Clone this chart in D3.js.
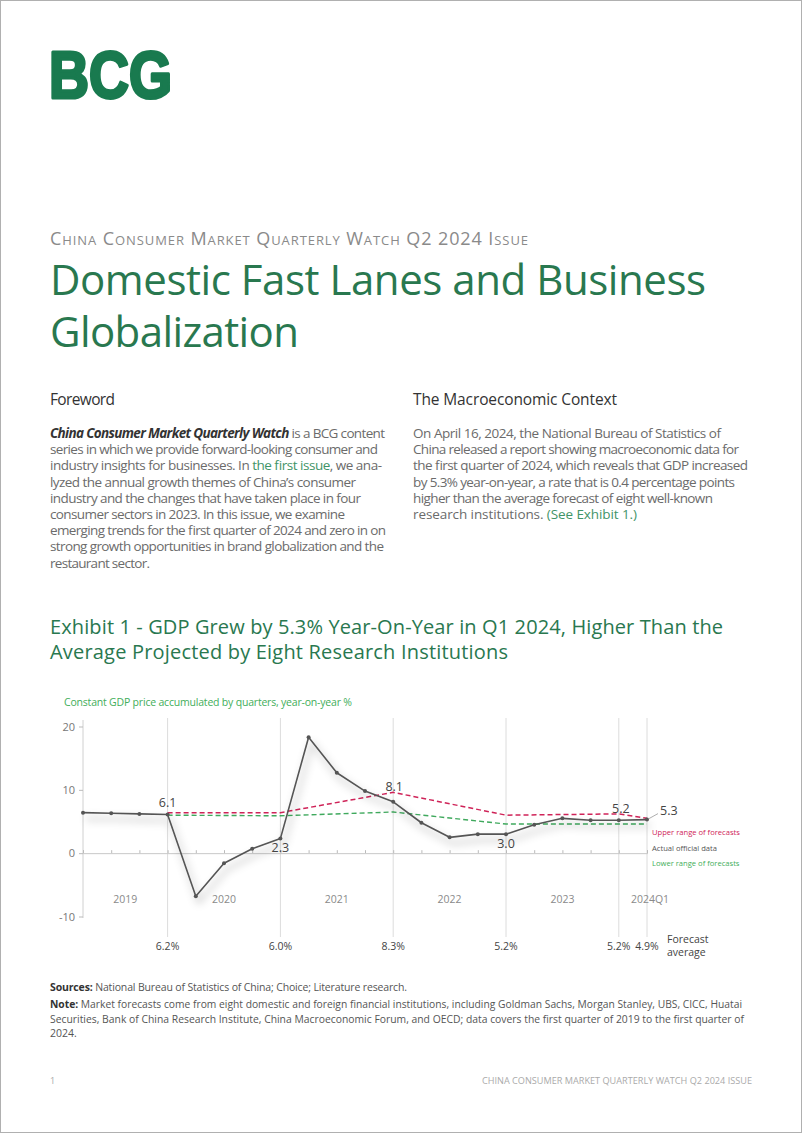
<!DOCTYPE html>
<html><head><meta charset="utf-8">
<script src="https://cdn.jsdelivr.net/npm/d3@7"></script>
<style>html,body{margin:0;padding:0;background:#fff;} svg{display:block;}</style>
</head><body><svg id="page" width="802" height="1133"></svg>
<script>
// ---------- DATA ----------
const quarters = ["2019Q1","2019Q2","2019Q3","2019Q4","2020Q1","2020Q2","2020Q3","2020Q4",
  "2021Q1","2021Q2","2021Q3","2021Q4","2022Q1","2022Q2","2022Q3","2022Q4",
  "2023Q1","2023Q2","2023Q3","2023Q4","2024Q1"];
const actualGDP = [6.4,6.3,6.2,6.1,-6.8,-1.6,0.7,2.3,18.3,12.7,9.8,8.1,4.8,2.5,3.0,3.0,4.5,5.5,5.2,5.2,5.3];
const forecastQuarters = ["2019Q4","2020Q4","2021Q4","2022Q4","2023Q4","2024Q1"];
const upperForecast = [6.4,6.4,9.6,6.0,6.2,5.5];
const lowerForecast = [6.0,5.9,6.5,4.6,4.6,4.6];
const averageForecast = [6.2,6.0,8.3,5.2,5.2,4.9];
const yearLabels = ["2019","2020","2021","2022","2023","2024Q1"];
const yTicks = [-10,0,10,20];
const labeledPoints = ["2019Q4","2020Q4","2021Q4","2022Q4","2023Q4","2024Q1"];
const legendLabels = ["Upper range of forecasts","Actual official data","Lower range of forecasts"];

// ---------- PAGE ----------
const svg = d3.select("#page");
const FONT = "'Open Sans', 'Noto Sans', sans-serif";
svg.append("rect").attr("x",0.5).attr("y",0.5).attr("width",801).attr("height",1132)
  .attr("fill","#fff").attr("stroke","#b0b0b0");

function line(x, y, segs, o) {
  const t = svg.append("text").attr("x", x).attr("y", y)
    .attr("font-family", o.family || FONT).attr("font-size", o.size)
    .attr("fill", o.fill || "#444").attr("text-anchor", o.anchor || "start");
  if (o.width) t.attr("textLength", o.width).attr("lengthAdjust", o.adjust || "spacing");
  if (o.weight) t.attr("font-weight", o.weight);
  if (o.variant) t.style("font-variant", o.variant);
  if (typeof segs === "string") segs = [[segs]];
  segs.forEach(s => {
    const ts = t.append("tspan").text(s[0]);
    if (s[1]) Object.entries(s[1]).forEach(([k,v]) => ts.attr(k, v));
  });
  return t;
}

// Logo
line(49, 98, "BCG", {size: 66, weight: 900, fill: "#197a4f", width: 123, adjust: "spacingAndGlyphs",
  family: "'Liberation Sans', Arial, sans-serif"}).attr("stroke","#197a4f").attr("stroke-width",3.2)
  .attr("stroke-linejoin","round");

// Header
line(50, 245, "China Consumer Market Quarterly Watch Q2 2024 Issue", {size: 18, fill: "#8a8a8a", variant: "small-caps", width: 478});
line(50, 295, "Domestic Fast Lanes and Business", {size: 42, fill: "#29784f", width: 656});
line(50, 347, "Globalization", {size: 42, fill: "#29784f", width: 249});

line(50, 405, "Foreword", {size: 15.5, fill: "#333", width: 65});
line(413, 405, "The Macroeconomic Context", {size: 15.5, fill: "#333", width: 204});

const BODY = "#6b6b6b", LINK = "#3f9468";
const bi = {"font-weight":"700","font-style":"italic","fill":"#333"};
const lk = {"fill": LINK};
const foreword = [
  [[[ "China Consumer Market Quarterly Watch", bi], [" is a BCG content"]], 335],
  [[["series in which we provide forward-looking consumer and"]], 328],
  [[["industry insights for businesses. In "], ["the first issue", lk], [", we ana-"]], 332],
  [[["lyzed the annual growth themes of China’s consumer"]], 306],
  [[["industry and the changes that have taken place in four"]], 311],
  [[["consumer sectors in 2023. In this issue, we examine"]], 295],
  [[["emerging trends for the first quarter of 2024 and zero in on"]], 336],
  [[["strong growth opportunities in brand globalization and the"]], 334],
  [[["restaurant sector."]], 100]
];
foreword.forEach((l, i) => line(50, 438 + i*16.2, l[0], {size: 13.5, fill: BODY, width: l[1]}));
const macro = [
  [[["On April 16, 2024, the National Bureau of Statistics of"]], 308],
  [[["China released a report showing macroeconomic data for"]], 326],
  [[["the first quarter of 2024, which reveals that GDP increased"]], 335],
  [[["by 5.3% year-on-year, a rate that is 0.4 percentage points"]], 322],
  [[["higher than the average forecast of eight well-known"]], 300],
  [[["research institutions. "], ["(See Exhibit 1.)", lk]], 224]
];
macro.forEach((l, i) => line(413, 438 + i*16.2, l[0], {size: 13.5, fill: BODY, width: l[1]}));

line(50, 634, "Exhibit 1 - GDP Grew by 5.3% Year-On-Year in Q1 2024, Higher Than the", {size: 20, fill: "#29784f", width: 673});
line(50, 659, "Average Projected by Eight Research Institutions", {size: 20, fill: "#29784f", width: 458});

line(64, 706, "Constant GDP price accumulated by quarters, year-on-year %", {size: 10.5, fill: "#3fae5a", width: 288});

// ---------- CHART ----------
const x = d3.scalePoint(quarters, [83, 647]);
const y = d3.scaleLinear([-10, 20], [916.5, 726.5]);

const defs = svg.append("defs");
defs.append("filter").attr("id","shadow").attr("x","-20%").attr("y","-20%").attr("width","140%").attr("height","150%")
  .append("feDropShadow").attr("dx",3).attr("dy",6).attr("stdDeviation",4)
  .attr("flood-color","#000").attr("flood-opacity",0.4);

const chart = svg.append("g");
// gridlines
chart.selectAll("line.grid").data(forecastQuarters).join("line").attr("class","grid")
  .attr("x1", d => x(d)).attr("x2", d => x(d)).attr("y1", 718).attr("y2", 937)
  .attr("stroke","#dcdcdc").attr("stroke-width",1);

// y axis
const yAx = chart.append("g").attr("transform","translate(83,0)")
  .call(d3.axisLeft(y).tickValues(yTicks).tickFormat(d => String(d)).tickSize(4).tickPadding(4));
yAx.select(".domain").attr("stroke","#d0d0d0").attr("d","M0,720V918");
yAx.selectAll(".tick line").attr("stroke","#bbb");
yAx.selectAll(".tick text").attr("fill","#777").attr("font-size",11).attr("font-family",FONT);

// x axis at 0
const xAx = chart.append("g").attr("transform",`translate(0,${y(0)})`)
  .call(d3.axisBottom(x).tickSize(-3).tickFormat(""));
xAx.select(".domain").attr("stroke","#c8c8c8");
xAx.selectAll(".tick line").attr("stroke","#bbb");

// year labels
const gridX = forecastQuarters.map(q => x(q));
const yearCenters = yearLabels.map((d, i) => i === 0 ? (x(quarters[0]) + gridX[0]) / 2
  : i === yearLabels.length - 1 ? gridX[i] + 3 : (gridX[i-1] + gridX[i]) / 2);
chart.selectAll("text.year").data(yearLabels).join("text").attr("class","year")
  .attr("x", (d,i) => yearCenters[i]).attr("y", 903).attr("text-anchor","middle")
  .attr("font-family",FONT).attr("font-size",10.5).attr("fill","#8a8a8a").text(d => d);

// forecast lines
const fLine = d3.line().x(d => x(d[0])).y(d => y(d[1]));
chart.append("path").datum(forecastQuarters.map((q,i)=>[q, lowerForecast[i]]))
  .attr("d", fLine).attr("fill","none").attr("stroke","#3fa95d").attr("stroke-width",1.4)
  .attr("stroke-dasharray","5,3");
chart.append("path").datum(forecastQuarters.map((q,i)=>[q, upperForecast[i]]))
  .attr("d", fLine).attr("fill","none").attr("stroke","#cf2358").attr("stroke-width",1.5)
  .attr("stroke-dasharray","5,3");

// actual line
const aData = quarters.map((q,i)=>[q, actualGDP[i]]);
chart.append("path").datum(aData).attr("d", fLine).attr("fill","none")
  .attr("stroke","#555").attr("stroke-width",1.6).attr("stroke-linejoin","round")
  .attr("filter","url(#shadow)");
chart.selectAll("circle.pt").data(aData).join("circle").attr("class","pt")
  .attr("cx", d => x(d[0])).attr("cy", d => y(d[1])).attr("r", 2).attr("fill","#555");

// data labels
const labelOffsets = {"2019Q4":[0,-8,"middle"],"2020Q4":[0,13,"middle"],"2021Q4":[1,-11,"middle"],
  "2022Q4":[0,14,"middle"],"2023Q4":[2,-7,"middle"],"2024Q1":[13,-5,"start"]};
labeledPoints.forEach(q => {
  const v = actualGDP[quarters.indexOf(q)];
  const o = labelOffsets[q];
  chart.append("text").attr("x", x(q) + o[0]).attr("y", y(v) + o[1]).attr("text-anchor", o[2])
    .attr("font-family",FONT).attr("font-size",12.5).attr("fill","#444").text(v.toFixed(1));
});
// leader line for last label
const lastQ = quarters[quarters.length-1], lastV = actualGDP[actualGDP.length-1];
chart.append("line").attr("x1", x(lastQ)+2).attr("y1", y(lastV)-1).attr("x2", x(lastQ)+11).attr("y2", y(lastV)-6)
  .attr("stroke","#999").attr("stroke-width",0.8);

// legend
const legendColors = ["#cf2358","#555","#3fae5a"];
chart.selectAll("text.leg").data(legendLabels).join("text").attr("class","leg")
  .attr("x", 652).attr("y", (d,i) => 835 + i*15.5).attr("font-family",FONT).attr("font-size",7.6)
  .attr("fill", (d,i) => legendColors[i]).text(d => d);

// forecast average
chart.selectAll("text.avg").data(averageForecast).join("text").attr("class","avg")
  .attr("x", (d,i) => x(forecastQuarters[i])).attr("y", 950).attr("text-anchor","middle")
  .attr("font-family",FONT).attr("font-size",10.5).attr("fill","#444").text(d => d.toFixed(1) + "%");
line(667, 943, "Forecast", {size: 10.5, fill: "#444"});
line(667, 955.5, "average", {size: 10.5, fill: "#444"});

// ---------- FOOTNOTES ----------
line(50, 991, [["Sources:", {"font-weight":"700","fill":"#333"}], [" National Bureau of Statistics of China; Choice; Literature research."]],
  {size: 10.5, fill: "#555", width: 357});
line(50, 1008, [["Note:", {"font-weight":"700","fill":"#333"}], [" Market forecasts come from eight domestic and foreign financial institutions, including Goldman Sachs, Morgan Stanley, UBS, CICC, Huatai"]],
  {size: 10.5, fill: "#555", width: 692, adjust: "spacingAndGlyphs"});
line(50, 1023, "Securities, Bank of China Research Institute, China Macroeconomic Forum, and OECD; data covers the first quarter of 2019 to the first quarter of",
  {size: 10.5, fill: "#555", width: 694, adjust: "spacingAndGlyphs"});
line(50, 1037, "2024.", {size: 10.5, fill: "#555"});

line(50, 1084, "1", {size: 9, fill: "#aaa"});
line(752, 1084, "CHINA CONSUMER MARKET QUARTERLY WATCH Q2 2024 ISSUE", {size: 9, fill: "#aaa", anchor: "end", width: 270, adjust: "spacingAndGlyphs"});
</script></body></html>
